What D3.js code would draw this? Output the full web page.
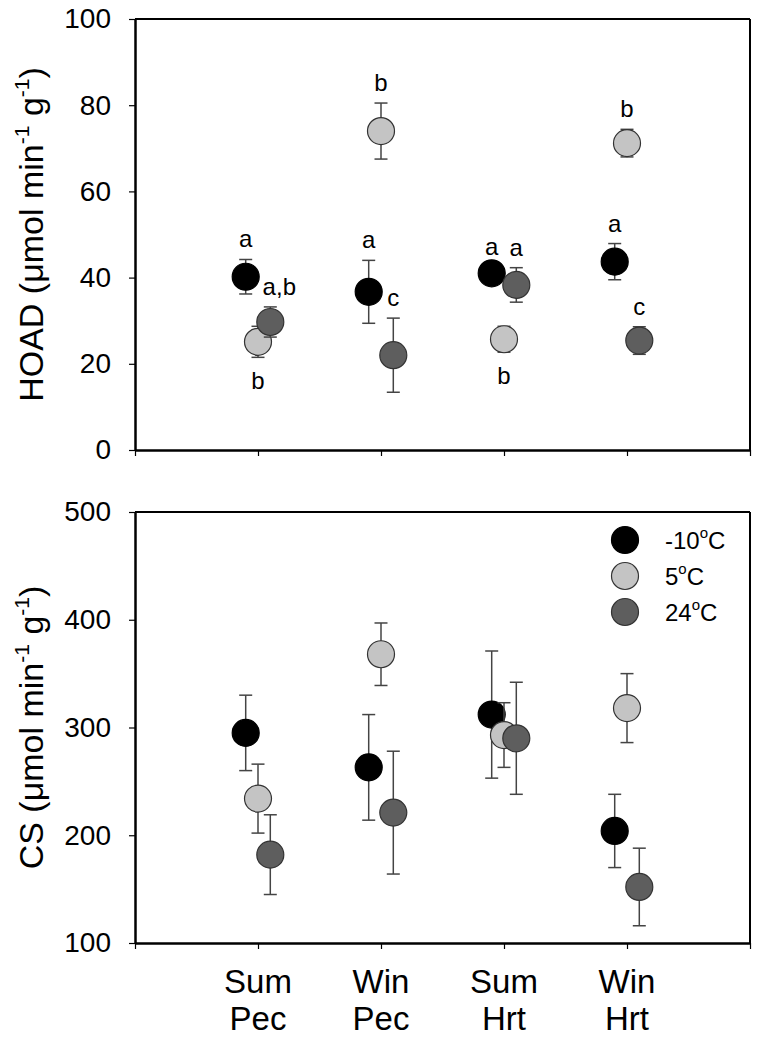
<!DOCTYPE html>
<html><head><meta charset="utf-8">
<script src="https://cdn.jsdelivr.net/npm/d3@7"></script>
<style>
body{margin:0;background:#fff;}
text{font-family:"Liberation Sans",Arial,sans-serif;fill:#000;}
</style></head>
<body><svg id="chart" width="760" height="1040"></svg>
<script>
const categories = ["Sum Pec","Win Pec","Sum Hrt","Win Hrt"];
const catLine1 = ["Sum","Win","Sum","Win"];
const catLine2 = ["Pec","Pec","Hrt","Hrt"];
const seriesNames = ["-10","5","24"];

// HOAD (µmol min-1 g-1)
const hoadCold = [40.2, 36.7, 41.0, 43.7];
const hoadColdErr = [4.0, 7.3, 1.5, 4.2];
const hoadMid = [25.1, 74.0, 25.7, 71.2];
const hoadMidErr = [3.6, 6.5, 3.0, 3.2];
const hoadWarm = [29.7, 22.0, 38.3, 25.4];
const hoadWarmErr = [3.5, 8.6, 4.0, 3.2];
const hoadColdLetters = ["a","a","a","a"];
const hoadMidLetters = ["b","b","b","b"];
const hoadMidLetterSide = ["below","above","below","above"];
const hoadWarmLetters = ["a,b","c","a","c"];

// CS (µmol min-1 g-1)
const csCold = [295, 263, 312, 204];
const csColdErr = [35, 49, 59, 34];
const csMid = [234, 368, 293, 318];
const csMidErr = [32, 29, 30, 32];
const csWarm = [182, 221, 290, 152];
const csWarmErr = [37, 57, 52, 36];

const hoadTicks = [0,20,40,60,80,100];
const csTicks = [100,200,300,400,500];

const colors = ["#000000","#c4c4c4","#5e5e5e"];
const offsets = [-0.1, 0, 0.1];

const svg = d3.select("#chart");
const left = 135, right = 750;
const x = d3.scaleLinear().domain([0,5]).range([left,right]);

function panel(top, bottom, domain, ticks, seriesVals, seriesErr, title, letters) {
  const y = d3.scaleLinear().domain(domain).range([bottom, top]);
  const g = svg.append("g");
  g.append("line").attr("x1",left).attr("x2",right).attr("y1",top).attr("y2",top).attr("stroke","#000").attr("stroke-width",2);
  g.append("line").attr("x1",right).attr("x2",right).attr("y1",top).attr("y2",bottom).attr("stroke","#000").attr("stroke-width",2);
  const ya = g.append("g").attr("transform",`translate(${left},0)`)
    .call(d3.axisLeft(y).tickValues(ticks).tickSize(6).tickSizeOuter(0).tickPadding(18));
  ya.select(".domain").attr("stroke-width",2.5);
  ya.selectAll(".tick line").attr("stroke-width",1.2);
  ya.selectAll("text").attr("font-size",28).attr("font-family","Liberation Sans, Arial, sans-serif").attr("fill","#000");
  const xa = g.append("g").attr("transform",`translate(0,${bottom})`)
    .call(d3.axisBottom(x).tickValues([0,1,2,3,4,5]).tickSize(6).tickSizeOuter(0).tickFormat(""));
  xa.select(".domain").attr("stroke-width",2.5);
  xa.selectAll(".tick line").attr("stroke-width",1.2);
  const cy = (top+bottom)/2;
  const t = g.append("text").attr("transform",`translate(43,${cy}) rotate(-90)`)
    .attr("text-anchor","middle").attr("font-size",34);
  t.append("tspan").text(title + " (\u03bcmol min");
  t.append("tspan").text("-1").attr("font-size",21).attr("dy",-14);
  t.append("tspan").text(" g").attr("dy",14);
  t.append("tspan").text("-1").attr("font-size",21).attr("dy",-14);
  t.append("tspan").text(")").attr("dy",14);

  seriesVals.forEach((vals, si) => {
    const errs = seriesErr[si];
    const sg = g.append("g");
    vals.forEach((v, i) => {
      const cx = x(i+1+offsets[si]);
      const e = errs[i];
      sg.append("line").attr("x1",cx).attr("x2",cx).attr("y1",y(v+e)).attr("y2",y(v-e)).attr("stroke","#444").attr("stroke-width",1.5);
      [v+e, v-e].forEach(ev => sg.append("line").attr("x1",cx-6.5).attr("x2",cx+6.5).attr("y1",y(ev)).attr("y2",y(ev)).attr("stroke","#444").attr("stroke-width",1.5));
    });
    vals.forEach((v, i) => {
      sg.append("circle").attr("cx",x(i+1+offsets[si])).attr("cy",y(v)).attr("r",13.5)
        .attr("fill",colors[si]).attr("stroke",si===0?"#000":"#333").attr("stroke-width",1.2);
    });
    if (letters) {
      const L = letters[si];
      L.labels.forEach((lab, i) => {
        const cx = x(i+1+offsets[si]) + (lab.length>1 ? 9 : 0);
        const side = L.side ? L.side[i] : "above";
        const v = vals[i], e = errs[i];
        const ty = side === "above" ? y(v+e) - 12 : y(v-e) + 32;
        g.append("text").attr("x",cx).attr("y",ty).attr("text-anchor","middle").attr("font-size",24).text(lab);
      });
    }
  });
  return y;
}

panel(19, 450, [0,100], hoadTicks,
  [hoadCold, hoadMid, hoadWarm], [hoadColdErr, hoadMidErr, hoadWarmErr], "HOAD",
  [{labels:hoadColdLetters},{labels:hoadMidLetters, side:hoadMidLetterSide},{labels:hoadWarmLetters}]);
panel(512, 943, [100,500], csTicks,
  [csCold, csMid, csWarm], [csColdErr, csMidErr, csWarmErr], "CS", null);

const lg = svg.append("g");
seriesNames.forEach((s, i) => {
  const ly = 540 + i*36;
  lg.append("circle").attr("cx",625).attr("cy",ly).attr("r",13.5).attr("fill",colors[i]).attr("stroke",i===0?"#000":"#333").attr("stroke-width",1.2);
  const t = lg.append("text").attr("x",665).attr("y",ly+9).attr("font-size",24);
  t.append("tspan").text(s);
  t.append("tspan").text("o").attr("font-size",15).attr("dy",-11);
  t.append("tspan").text("C").attr("dy",11);
});

categories.forEach((c, i) => {
  svg.append("text").attr("x",x(i+1)).attr("y",993).attr("text-anchor","middle").attr("font-size",33).text(catLine1[i]);
  svg.append("text").attr("x",x(i+1)).attr("y",1030).attr("text-anchor","middle").attr("font-size",33).text(catLine2[i]);
});
</script></body></html>
